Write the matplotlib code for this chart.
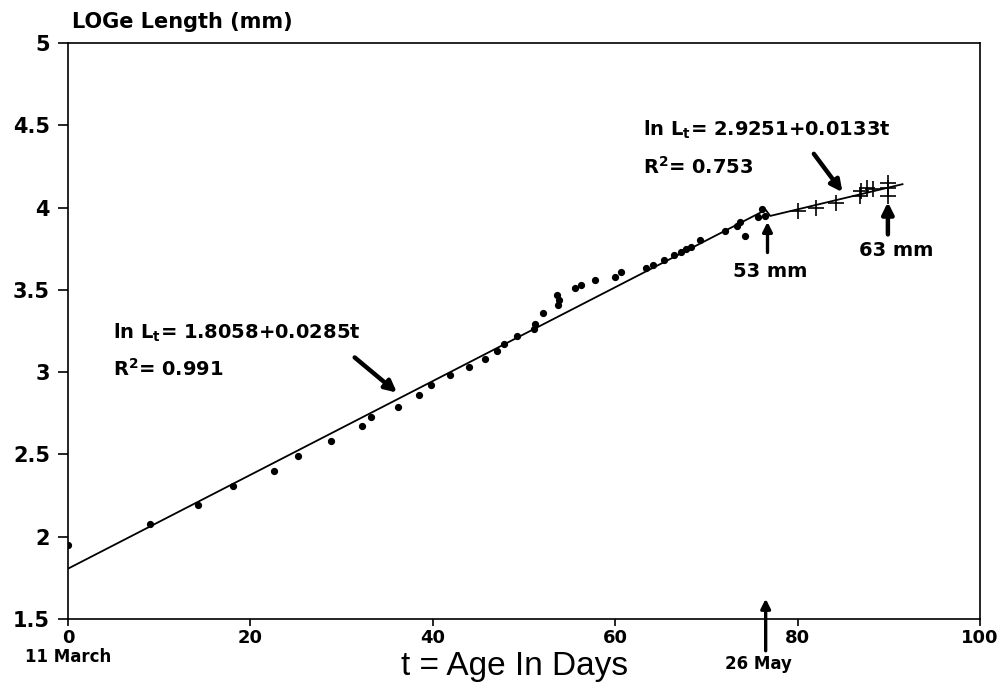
import matplotlib
matplotlib.use("Agg")
import matplotlib.pyplot as plt
import numpy as np

# ---- data ----
age_days = [0, 9.0, 14.2, 18.1, 22.6, 25.2, 28.8, 32.2, 33.2, 36.2, 38.5, 39.8,
            41.9, 44.0, 45.7, 47.0, 47.8, 49.2, 51.1, 51.2, 52.1, 53.6, 53.8, 53.7,
            55.6, 56.2, 57.8, 60.0, 60.6, 63.4, 64.1, 65.4, 66.5, 67.2, 67.8, 68.3,
            69.3, 72.0, 73.4, 73.7, 74.2, 75.7, 76.1, 76.4]
log_length = [1.95, 2.08, 2.19, 2.31, 2.40, 2.49, 2.58, 2.67, 2.73, 2.79, 2.86, 2.92,
              2.98, 3.03, 3.08, 3.13, 3.17, 3.22, 3.26, 3.29, 3.36, 3.47, 3.44, 3.41,
              3.51, 3.53, 3.56, 3.58, 3.61, 3.63, 3.65, 3.68, 3.71, 3.73, 3.75, 3.76,
              3.80, 3.86, 3.89, 3.91, 3.83, 3.94, 3.99, 3.95]

late_days = [80.0, 82.0, 84.2, 86.8, 87.0, 87.6, 88.3, 89.9, 89.9, 89.9]
late_log_length = [3.98, 4.00, 4.03, 4.07, 4.10, 4.12, 4.11, 4.15, 4.12, 4.07]

fit1_coef = [1.8058, 0.0285]   # intercept, slope
fit1_range = [0, 76.5]
fit2_coef = [2.9251, 0.0133]
fit2_range = [77.0, 91.5]

x_ticks = [0, 20, 40, 60, 80, 100]
y_ticks = [1.5, 2, 2.5, 3, 3.5, 4, 4.5, 5]
y_tick_labels = ["1.5", "2", "2.5", "3", "3.5", "4", "4.5", "5"]

# ---- figure ----
W, H = 1006, 684
fig = plt.figure(figsize=(W / 100, H / 100), dpi=100)
L, R, T, B = 68, 980, 43, 619
ax = fig.add_axes([L / W, (H - B) / H, (R - L) / W, (B - T) / H])

bold = ["DejaVu Sans"]
plain = ["Liberation Sans", "DejaVu Sans"]

# fitted lines
fx = [fit1_range[0], fit1_range[1], fit2_range[0], fit2_range[1]]
fy = [fit1_coef[0] + fit1_coef[1] * fit1_range[0],
      fit1_coef[0] + fit1_coef[1] * fit1_range[1],
      fit2_coef[0] + fit2_coef[1] * fit2_range[0],
      fit2_coef[0] + fit2_coef[1] * fit2_range[1]]
ax.plot(fx, fy, color="black", lw=1.3, zorder=2)

ax.plot(age_days, log_length, "o", color="black", ms=4.2, zorder=3)
ax.plot(late_days, late_log_length, "+", color="black", ms=12, mew=1.2, zorder=3)

ax.set_xlim(0, 100)
ax.set_ylim(1.5, 5)
ax.set_xticks(x_ticks)
ax.set_xticklabels([str(v) for v in x_ticks], fontfamily=bold, fontweight="bold", fontsize=13)
ax.set_yticks(y_ticks)
ax.set_yticklabels(y_tick_labels, fontfamily=bold, fontweight="bold", fontsize=15)
ax.tick_params(axis="y", direction="out", length=7, width=1.2, pad=6)
ax.tick_params(axis="x", direction="out", length=5, width=1.2, pad=2)
for s in ax.spines.values():
    s.set_linewidth(1.2)

# axis titles
fig.text(72 / W, 1 - 22 / H, "LOGe Length (mm)", fontfamily=bold, fontweight="bold",
         fontsize=15, ha="left", va="center")
fig.text(515 / W, 1 - 666 / H, "t = Age In Days", fontfamily=plain, fontsize=24,
         ha="center", va="center")
fig.text(68 / W, 1 - 657 / H, "11 March", fontfamily=bold, fontweight="bold",
         fontsize=12, ha="center", va="center")
fig.text(758 / W, 1 - 664 / H, "26 May", fontfamily=bold, fontweight="bold",
         fontsize=12, ha="center", va="center")

# 26 May arrow (below axis)
ax.annotate("", xy=(76.5, 1.64), xytext=(76.5, 1.29), xycoords="data",
            arrowprops=dict(arrowstyle="-|>", color="black", lw=2.4,
                            mutation_scale=14), annotation_clip=False)

# equation 1
ax.text(4.9, 3.24, r"ln L$_\mathbf{t}$= 1.8058+0.0285t", fontfamily=bold, fontweight="bold",
        fontsize=14, ha="left", va="center")
ax.text(4.9, 3.02, r"R$^\mathbf{2}$= 0.991", fontfamily=bold, fontweight="bold",
        fontsize=14, ha="left", va="center")
ax.annotate("", xy=(36.3, 2.865), xytext=(31.2, 3.10),
            arrowprops=dict(arrowstyle="-|>", color="black", lw=3.2, mutation_scale=17))

# equation 2
ax.text(63.0, 4.47, r"ln L$_\mathbf{t}$= 2.9251+0.0133t", fontfamily=bold, fontweight="bold",
        fontsize=14, ha="left", va="center")
ax.text(63.0, 4.25, r"R$^\mathbf{2}$= 0.753", fontfamily=bold, fontweight="bold",
        fontsize=14, ha="left", va="center")
ax.annotate("", xy=(85.1, 4.08), xytext=(81.6, 4.34),
            arrowprops=dict(arrowstyle="-|>", color="black", lw=3.2, mutation_scale=17))

# 53 mm and 63 mm
ax.annotate("", xy=(76.7, 3.93), xytext=(76.7, 3.71),
            arrowprops=dict(arrowstyle="-|>", color="black", lw=2.4, mutation_scale=14))
ax.text(77.0, 3.61, "53 mm", fontfamily=bold, fontweight="bold", fontsize=14,
        ha="center", va="center")
ax.annotate("", xy=(89.9, 4.05), xytext=(89.9, 3.82),
            arrowprops=dict(arrowstyle="-|>", color="black", lw=3.2, mutation_scale=17))
ax.text(90.8, 3.74, "63 mm", fontfamily=bold, fontweight="bold", fontsize=14,
        ha="center", va="center")

fig.savefig("out.png", dpi=100)
